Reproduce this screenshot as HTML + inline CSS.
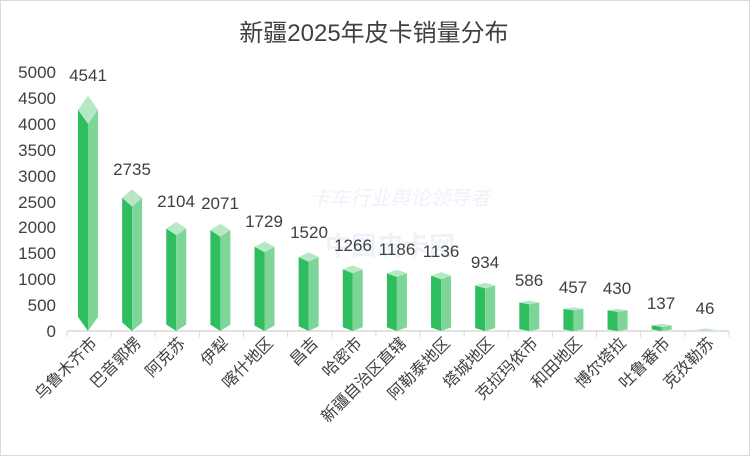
<!DOCTYPE html>
<html><head><meta charset="utf-8"><style>
body{margin:0;background:#fff}
svg{display:block}
text{font-family:"Liberation Sans","Noto Sans CJK SC",sans-serif;fill:#404040}
</style></head><body>
<svg id="s" width="750" height="456" viewBox="0 0 750 456">
<rect x="0.5" y="0.5" width="749" height="455" fill="#fff" stroke="#d9d9d9"/>
<text x="374" y="41" font-size="24" text-anchor="middle">新疆2025年皮卡销量分布</text>
<text x="400" y="205" font-size="20" style="fill:#edf2f9;font-style:italic" text-anchor="middle">卡车行业舆论领导者</text>
<text x="390" y="255" font-size="26" style="fill:#eef3fa;font-weight:bold" text-anchor="middle">中国皮卡网</text>
<g font-size="17" text-anchor="end">
<text x="56" y="78">5000</text><text x="56" y="104">4500</text><text x="56" y="130">4000</text>
<text x="56" y="156">3500</text><text x="56" y="182">3000</text><text x="56" y="208">2500</text>
<text x="56" y="233">2000</text><text x="56" y="259">1500</text><text x="56" y="285">1000</text>
<text x="56" y="311">500</text><text x="56" y="337">0</text>
</g>
<line x1="67" y1="331" x2="729" y2="331" stroke="#d9d9d9" stroke-width="1.5"/>
<g id="ticks" stroke="#d9d9d9"></g>
<g id="bars"></g>
<g font-size="17" text-anchor="middle">
<text x="88" y="81">4541</text><text x="132" y="175">2735</text><text x="176" y="207">2104</text>
<text x="220" y="209">2071</text><text x="264" y="227">1729</text><text x="309" y="238">1520</text>
<text x="353" y="251">1266</text><text x="397" y="255">1186</text><text x="441" y="257">1136</text>
<text x="485" y="268">934</text><text x="529" y="286">586</text><text x="573" y="293">457</text>
<text x="617" y="294">430</text><text x="661" y="309">137</text><text x="705" y="314">46</text>
</g>
<g font-size="16" text-anchor="end">
<text transform="translate(98,344) rotate(-45)">乌鲁木齐市</text>
<text transform="translate(142,344) rotate(-45)">巴音郭楞</text>
<text transform="translate(186,344) rotate(-45)">阿克苏</text>
<text transform="translate(230,344) rotate(-45)">伊犁</text>
<text transform="translate(274,344) rotate(-45)">喀什地区</text>
<text transform="translate(319,344) rotate(-45)">昌吉</text>
<text transform="translate(363,344) rotate(-45)">哈密市</text>
<text transform="translate(407,344) rotate(-45)">新疆自治区直辖</text>
<text transform="translate(451,344) rotate(-45)">阿勒泰地区</text>
<text transform="translate(495,344) rotate(-45)">塔城地区</text>
<text transform="translate(539,344) rotate(-45)">克拉玛依市</text>
<text transform="translate(583,344) rotate(-45)">和田地区</text>
<text transform="translate(627,344) rotate(-45)">博尔塔拉</text>
<text transform="translate(671,344) rotate(-45)">吐鲁番市</text>
<text transform="translate(715,344) rotate(-45)">克孜勒苏</text>
</g>
</svg>
<script>
var v=[4541,2735,2104,2071,1729,1520,1266,1186,1136,934,586,457,430,137,46];
var ns="http://www.w3.org/2000/svg",b=document.getElementById("bars"),t=document.getElementById("ticks");
function poly(p,c){var e=document.createElementNS(ns,"polygon");e.setAttribute("points",p.map(function(q){return q.join(",")}).join(" "));e.setAttribute("fill",c);b.appendChild(e);}
for(var i=0;i<=15;i++){var x=67+44.13*i;var l=document.createElementNS(ns,"line");l.setAttribute("x1",x);l.setAttribute("x2",x);l.setAttribute("y1",331);l.setAttribute("y2",337);t.appendChild(l);}
v.forEach(function(val,i){var cx=88+44.13*i,h=val*0.0518,top=331-h,d=Math.max(Math.min(14,h*0.06),1.5),w=10;
if(2*d>h){d=h/2;}
poly([[cx-w,top+d],[cx,top+2*d],[cx,331],[cx-w,331-d]],"#2fbe5f");
poly([[cx+w,top+d],[cx,top+2*d],[cx,331],[cx+w,331-d]],"#7dd698");
poly([[cx,top],[cx+w,top+d],[cx,top+2*d],[cx-w,top+d]],"#b6e8c6");});
</script>
</body></html>
